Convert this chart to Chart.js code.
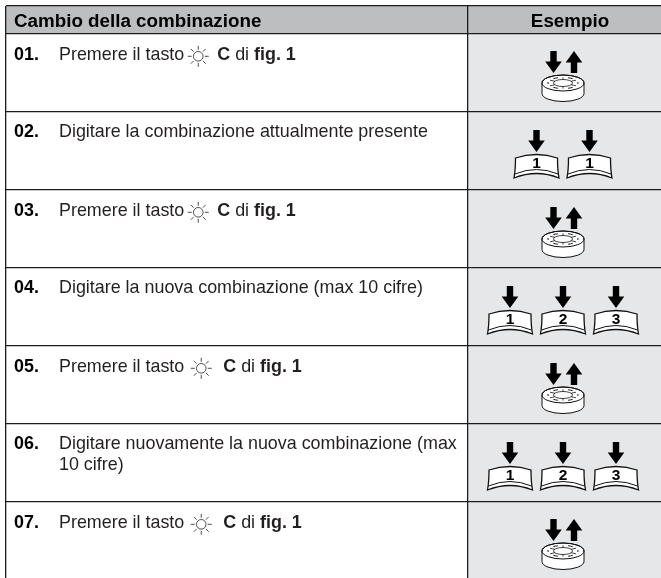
<!DOCTYPE html>
<html>
<head>
<meta charset="utf-8">
<title>Cambio della combinazione</title>
<script src="https://cdn.jsdelivr.net/npm/chart.js@4/dist/chart.umd.min.js"></script>
<style>
	html, body { margin: 0; padding: 0; background: #ffffff; }
	canvas { display: block; }
</style>
</head>
<body>
<canvas id="table-chart" width="661" height="578"></canvas>
<script>
const rowEdges = [6, 34, 112, 190, 268, 346, 424, 502, 578];
const columnEdges = [6, 468, 661];
const columnTitles = ["Cambio della combinazione", "Esempio"];
const stepNumbers = ["01.", "02.", "03.", "04.", "05.", "06.", "07."];
// "~" is the light symbol, "|" switches bold on and off
const stepTexts = [
	["Premere il tasto ~|C| di |fig. 1|"],
	["Digitare la combinazione attualmente presente"],
	["Premere il tasto ~|C| di |fig. 1|"],
	["Digitare la nuova combinazione (max 10 cifre)"],
	["Premere il tasto ~|C| di |fig. 1|"],
	["Digitare nuovamente la nuova combinazione (max", "10 cifre)"],
	["Premere il tasto ~|C| di |fig. 1|"]
];
// null means the dial icon, otherwise the keys to press
const stepKeys = [null, ["1", "1"], null, ["1", "2", "3"], null, ["1", "2", "3"], null];
const wideSymbolSteps = [4, 6];

const INK = "#231f20";
const HEADER_FILL = "#bcbec0";
const EXAMPLE_FILL = "#e6e7e8";
const FONT = "'Liberation Sans', Arial, sans-serif";
const BODY_SIZE = "17.9px ";
const ICON_CENTRE = 563;
const KEY_SPACING = 53;

function columnBars(column, fill)
{
	let bars = [];
	for(let i = 0; i < rowEdges.length - 1; i++)
		bars.push({
			x : (columnEdges[column] + columnEdges[column + 1]) / 2,
			y : [rowEdges[i], rowEdges[i + 1]]
		});
	return {
		data : bars,
		grouped : false,
		barThickness : columnEdges[column + 1] - columnEdges[column],
		borderWidth : 0,
		backgroundColor : (context) => context.dataIndex == 0 ? HEADER_FILL : fill
	};
}

function drawArrow(ctx, x, top, bottom, down)
{
	const tip = down ? bottom : top;
	const base = down ? top : bottom;
	const neck = down ? bottom - 11.5 : top + 11.5;
	ctx.beginPath();
	ctx.moveTo(x - 3.2, base);
	ctx.lineTo(x + 3.2, base);
	ctx.lineTo(x + 3.2, neck);
	ctx.lineTo(x + 8.3, neck);
	ctx.lineTo(x, tip);
	ctx.lineTo(x - 8.3, neck);
	ctx.lineTo(x - 3.2, neck);
	ctx.closePath();
	ctx.fillStyle = "#000000";
	ctx.fill();
}

function drawDial(ctx, x, rowTop)
{
	const top = rowTop + 49;
	const low = rowTop + 59.5;
	ctx.strokeStyle = "#111111";
	ctx.fillStyle = "#ffffff";
	ctx.lineWidth = 1;
	ctx.beginPath();
	ctx.ellipse(x, top, 21, 8, 0, Math.PI, 0);
	ctx.lineTo(x + 21, low);
	ctx.ellipse(x, low, 21, 8, 0, 0, Math.PI);
	ctx.closePath();
	ctx.fill();
	ctx.stroke();
	ctx.beginPath();
	ctx.ellipse(x, top, 21, 8, 0, 0, Math.PI * 2);
	ctx.stroke();
	ctx.lineWidth = 0.8;
	ctx.beginPath();
	ctx.ellipse(x, top, 9.5, 3.5, 0, 0, Math.PI * 2);
	ctx.stroke();
	// the six spokes and the little dark segments between them
	for(let i = 0; i < 6; i++)
	{
		const angle = i * Math.PI / 3 + Math.PI / 6;
		ctx.lineWidth = 0.8;
		ctx.beginPath();
		ctx.moveTo(x + Math.cos(angle) * 9.5, top + Math.sin(angle) * 3.5);
		ctx.lineTo(x + Math.cos(angle) * 15, top + Math.sin(angle) * 5.6);
		ctx.stroke();
		ctx.lineWidth = 1;
		ctx.beginPath();
		ctx.ellipse(x, top, 15, 5.6, 0, angle + 0.35, angle + Math.PI / 3 - 0.35);
		ctx.stroke();
	}
}

function drawKey(ctx, x, rowTop, label)
{
	const top = rowTop + 42;
	ctx.strokeStyle = "#111111";
	ctx.fillStyle = "#ffffff";
	ctx.lineWidth = 1.3;
	ctx.beginPath();
	ctx.moveTo(x - 21, top + 4);
	ctx.quadraticCurveTo(x, top - 3, x + 21, top + 4);
	ctx.quadraticCurveTo(x + 21, top + 16, x + 22.5, top + 24);
	ctx.quadraticCurveTo(x, top + 15, x - 22.5, top + 24);
	ctx.quadraticCurveTo(x - 21, top + 16, x - 21, top + 4);
	ctx.closePath();
	ctx.fill();
	ctx.stroke();
	ctx.lineWidth = 1;
	ctx.beginPath();
	ctx.moveTo(x - 21.5, top + 20);
	ctx.quadraticCurveTo(x, top + 11, x + 21.5, top + 20);
	ctx.stroke();
	ctx.fillStyle = "#000000";
	ctx.font = "bold 15.5px " + FONT;
	ctx.textAlign = "center";
	ctx.fillText(label, x, top + 14);
	ctx.textAlign = "left";
}

function drawSymbol(ctx, x, y)
{
	ctx.strokeStyle = "#231f20";
	ctx.lineWidth = 0.8;
	ctx.beginPath();
	ctx.arc(x, y, 4.8, 0, Math.PI * 2);
	ctx.stroke();
	for(let i = 0; i < 8; i++)
	{
		const angle = i * Math.PI / 4;
		ctx.beginPath();
		ctx.moveTo(x + Math.cos(angle) * 6.5, y + Math.sin(angle) * 6.5);
		ctx.lineTo(x + Math.cos(angle) * 10.5, y + Math.sin(angle) * 10.5);
		ctx.stroke();
	}
}

function drawStepText(ctx, text, x, y, symbolWidth)
{
	let bold = false;
	for(let part of text.split("|"))
	{
		const pieces = part.split("~");
		for(let i = 0; i < pieces.length; i++)
		{
			ctx.font = (bold ? "bold " : "") + BODY_SIZE + FONT;
			ctx.fillStyle = INK;
			ctx.fillText(pieces[i], x, y);
			x += ctx.measureText(pieces[i]).width;
			if(i < pieces.length - 1)
			{
				drawSymbol(ctx, x + symbolWidth / 2 - 5, y - 3.7);
				x += symbolWidth;
			}
		}
		bold = !bold;
	}
}

const tablePlugin =
{
	id : "tableContent",
	afterDatasetsDraw(chart)
	{
		const ctx = chart.ctx;
		const xScale = chart.scales.x;
		const yScale = chart.scales.y;
		ctx.save();
		ctx.textBaseline = "alphabetic";
		ctx.fillStyle = "#000000";
		ctx.font = "bold 18.8px " + FONT;
		ctx.fillText(columnTitles[0], xScale.getPixelForValue(14), yScale.getPixelForValue(27));
		ctx.textAlign = "center";
		ctx.fillText(columnTitles[1], xScale.getPixelForValue(570), yScale.getPixelForValue(27));
		ctx.textAlign = "left";

		for(let i = 0; i < stepNumbers.length; i++)
		{
			const rowTop = yScale.getPixelForValue(rowEdges[i + 1]);
			// the rows with the light symbol sit a little lower
			const baseline = rowTop + (stepKeys[i] == null ? 26 : 25);
			ctx.font = "bold " + BODY_SIZE + FONT;
			ctx.fillStyle = "#000000";
			ctx.fillText(stepNumbers[i], xScale.getPixelForValue(14), baseline);
			const symbolWidth = wideSymbolSteps.includes(i) ? 34 : 28;
			stepTexts[i].forEach((line, lineIndex) =>
			{
				drawStepText(ctx, line, xScale.getPixelForValue(59), baseline + lineIndex * 21, symbolWidth);
			});

			const centre = xScale.getPixelForValue(ICON_CENTRE);
			if(stepKeys[i] == null)
			{
				drawDial(ctx, centre, rowTop);
				drawArrow(ctx, centre - 9.5, rowTop + 17, rowTop + 39, true);
				drawArrow(ctx, centre + 11, rowTop + 17, rowTop + 39, false);
			}
			else
			{
				stepKeys[i].forEach((label, keyIndex) =>
				{
					const x = centre + (keyIndex - (stepKeys[i].length - 1) / 2) * KEY_SPACING;
					drawKey(ctx, x, rowTop, label);
					drawArrow(ctx, x, rowTop + 18, rowTop + 40, true);
				});
			}
		}
		ctx.restore();
	}
};

function gridAxis(min, max, edges, reverse)
{
	return {
		type : "linear",
		min : min,
		max : max,
		reverse : reverse,
		offset : false,
		afterBuildTicks : (axis) => { axis.ticks = edges.map(value => ({ value : value })); },
		ticks : { display : false },
		border : { display : false },
		grid : { offset : false, z : 1, color : "#1c1c1c", lineWidth : 1.3, drawTicks : false }
	};
}

new Chart(document.getElementById("table-chart").getContext("2d"),
{
	type : "bar",
	data :
	{
		datasets : [columnBars(0, "#ffffff"), columnBars(1, EXAMPLE_FILL)]
	},
	options :
	{
		responsive : false,
		animation : false,
		layout : { padding : { left : 6, top : 6, right : 0, bottom : 0 } },
		plugins : { legend : { display : false }, tooltip : { enabled : false } },
		scales :
		{
			x : gridAxis(6, 661, columnEdges.slice(0, 2), false),
			y : gridAxis(6, 578, rowEdges.slice(0, 8), true)
		}
	},
	plugins : [tablePlugin]
});
</script>
</body>
</html>
